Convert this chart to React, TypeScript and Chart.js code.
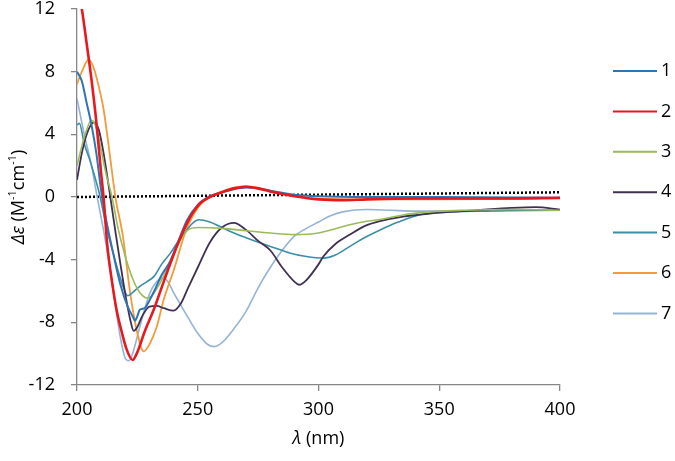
import React, { useEffect, useRef } from 'react';
import { Chart, registerables } from 'chart.js';

Chart.register(...registerables);

// ---- data (wavelength in nm, Δε in M^-1 cm^-1) ----
const seriesLabels = ['1', '2', '3', '4', '5', '6', '7'];
const seriesColors = ['#2E75B6', '#E8191E', '#9BBB59', '#403152', '#3C8DA8', '#F39A3B', '#95B3D7'];
const seriesWidths = [2, 2.6, 1.6, 1.8, 1.6, 1.8, 1.6];

const x1 = [200, 202, 204, 206, 208, 210, 212, 215, 218, 221, 223, 224, 225, 226, 228, 230, 232, 235, 238.6, 242, 245.5, 250, 255, 260, 265, 270, 275, 280, 290, 300, 320, 350, 400];
const y1 = [8.0, 7.4, 6.0, 4.6, 2.8, 0.4, -1.4, -3.6, -5.6, -7.0, -7.6, -7.9, -7.6, -7.2, -7.1, -6.6, -6.0, -5.0, -4.1, -2.8, -1.5, -0.5, 0.05, 0.3, 0.5, 0.6, 0.55, 0.4, 0.15, 0.05, 0.0, 0.0, -0.05];

const x2 = [200, 202, 204, 206, 208, 210, 211, 212.5, 214.5, 216.5, 218.5, 220.5, 223, 225, 228, 232, 235, 239, 242, 245.5, 248, 251, 255, 260, 265, 270, 275, 280, 290, 300, 310, 320, 340, 370, 400];
const y2 = [13.5, 12.0, 9.8, 7.5, 4.8, 1.5, 0, -3.0, -5.4, -7.3, -8.6, -9.7, -10.4, -9.9, -8.6, -7.1, -5.8, -4.1, -2.9, -1.7, -1.0, -0.4, 0.0, 0.3, 0.55, 0.65, 0.55, 0.35, 0.05, -0.15, -0.2, -0.15, -0.1, -0.1, -0.05];

const x3 = [200, 203, 206, 208, 210, 212, 214.5, 217, 220, 223, 226, 229, 231, 234, 237, 240, 243, 246, 250, 260, 270, 280, 290, 300, 305, 313, 320, 325, 335, 342, 360, 380, 400];
const y3 = [2.0, 3.8, 4.9, 4.4, 3.0, 1.5, 0, -2.0, -3.8, -5.2, -6.1, -6.45, -6.3, -5.6, -4.7, -3.6, -2.7, -2.1, -1.95, -2.0, -2.15, -2.3, -2.4, -2.3, -2.1, -1.77, -1.55, -1.45, -1.15, -1.0, -0.85, -0.8, -0.85];

const x4 = [200, 202, 204, 207, 209, 211, 213.8, 216, 218, 220, 222, 223.5, 225, 227, 230, 233, 236, 240, 243, 246, 250, 255, 260, 265, 270, 275, 280, 285, 290, 292, 295, 300, 302, 307, 313, 320, 325, 335, 342, 350, 365, 380, 390, 400];
const y4 = [1.1, 2.8, 4.0, 4.76, 4.3, 2.8, 0, -2.3, -4.3, -6.2, -7.8, -8.55, -8.3, -7.6, -7.0, -6.95, -7.1, -7.25, -6.8, -5.8, -4.5, -2.9, -1.95, -1.65, -2.1, -2.8, -3.4, -4.5, -5.4, -5.6, -5.3, -4.3, -3.8, -3.0, -2.4, -1.8, -1.56, -1.25, -1.13, -1.0, -0.85, -0.7, -0.65, -0.8];

const x5 = [200, 201, 203, 205, 207, 209.6, 212, 215, 218, 221, 223, 226, 229, 232, 235, 238.6, 242, 245.5, 248, 250.5, 255, 259, 265, 270, 276, 282, 288, 295, 302, 307, 313, 319, 325.5, 333, 342, 355, 370, 385, 400];
const y5 = [4.6, 4.7, 3.4, 2.5, 1.5, 0, -1.8, -3.6, -5.2, -6.3, -6.1, -5.7, -5.4, -5.05, -4.3, -3.6, -2.8, -2.1, -1.65, -1.45, -1.6, -1.87, -2.3, -2.6, -2.94, -3.25, -3.57, -3.8, -3.9, -3.7, -3.15, -2.6, -2.1, -1.6, -1.13, -0.95, -0.9, -0.85, -0.85];

const x6 = [200, 202, 204.8, 206.5, 208.3, 211, 213.5, 215.9, 219, 222, 225, 227.6, 230, 233, 236, 240, 245, 250, 255, 260, 265, 270, 275, 280, 290, 300, 320, 350, 400];
const y6 = [7.2, 8.0, 8.76, 8.4, 7.5, 5.6, 2.8, 0, -2.5, -6.1, -8.7, -9.85, -9.4, -8.3, -6.5, -4.7, -2.2, -0.7, 0.0, 0.35, 0.6, 0.7, 0.6, 0.4, 0.1, -0.1, -0.15, -0.15, -0.1];

const x7 = [200, 203, 206, 208, 212, 215, 218, 220, 221.5, 223, 226, 230, 233, 236, 238, 240, 243, 246, 250, 254, 257, 260, 265, 270, 275, 280, 285, 290, 295, 300, 305, 310, 320, 330, 340, 360, 400];
const y7 = [6.3, 4.0, 2.0, 0.3, -3.0, -6.0, -9.0, -10.3, -10.45, -10.0, -8.3, -6.2, -5.4, -5.15, -5.5, -6.1, -6.9, -7.7, -8.7, -9.4, -9.55, -9.3, -8.4, -7.3, -5.8, -4.5, -3.4, -2.5, -2.0, -1.6, -1.2, -0.95, -0.8, -0.85, -0.9, -0.9, -0.85];

const seriesX = [x1, x2, x3, x4, x5, x6, x7];
const seriesY = [y1, y2, y3, y4, y5, y6, y7];

const baselineX = [200, 400];
const baselineY = [0, 0.3];

const xTicksMin = 200;
const xTicksMax = 400;
const xStep = 50;
const yTicksMin = -12;
const yTicksMax = 12;
const yStep = 4;

const FONT = '"Open Sans", "Liberation Sans", sans-serif';
const AXIS_GREY = '#868686';

type Part = { t: string; italic?: boolean; sup?: boolean };

function drawRich(ctx: CanvasRenderingContext2D, parts: Part[], x: number, y: number, size: number) {
  const fontFor = (p: Part) => `${p.italic ? 'italic ' : ''}${p.sup ? Math.round(size * 0.62) : size}px ${FONT}`;
  let total = 0;
  parts.forEach((p) => {
    ctx.font = fontFor(p);
    total += ctx.measureText(p.t).width;
  });
  let cx = x - total / 2;
  ctx.textAlign = 'left';
  ctx.textBaseline = 'middle';
  parts.forEach((p) => {
    ctx.font = fontFor(p);
    ctx.fillText(p.t, cx, p.sup ? y - size * 0.36 : y);
    cx += ctx.measureText(p.t).width;
  });
}

const xTitle: Part[] = [{ t: 'λ', italic: true }, { t: ' (nm)' }];
const yTitle: Part[] = [
  { t: 'Δε', italic: true },
  { t: ' (M' },
  { t: '-1', sup: true },
  { t: 'cm' },
  { t: '-1', sup: true },
  { t: ')' },
];

const decorPlugin = {
  id: 'decor',
  afterDraw(chart: any) {
    const ctx: CanvasRenderingContext2D = chart.ctx;
    const area = chart.chartArea;
    ctx.save();
    ctx.fillStyle = '#000';
    // axis titles
    drawRich(ctx, xTitle, (area.left + area.right) / 2, area.bottom + 54, 18);
    ctx.save();
    ctx.translate(19, (area.top + area.bottom) / 2);
    ctx.rotate(-Math.PI / 2);
    drawRich(ctx, yTitle, 0, 0, 18);
    ctx.restore();
    // legend
    const lx0 = area.right + 53;
    const lx1 = lx0 + 44;
    const top = area.top + 62;
    const gap = 40.4;
    seriesLabels.forEach((lab, i) => {
      const y = top + i * gap;
      ctx.strokeStyle = seriesColors[i];
      ctx.lineWidth = 2;
      ctx.beginPath();
      ctx.moveTo(lx0, y);
      ctx.lineTo(lx1, y);
      ctx.stroke();
      ctx.fillStyle = '#000';
      ctx.font = `18px ${FONT}`;
      ctx.textAlign = 'left';
      ctx.textBaseline = 'middle';
      ctx.fillText(lab, lx1 + 4, y);
    });
    ctx.restore();
  },
};

export default function App() {
  const ref = useRef<HTMLCanvasElement>(null);
  useEffect(() => {
    if (!ref.current) return;
    const pts = (xs: number[], ys: number[]) => xs.map((x, i) => ({ x, y: ys[i] }));
    const datasets: any[] = seriesLabels.map((lab, i) => ({
      label: lab,
      data: pts(seriesX[i], seriesY[i]),
      borderColor: seriesColors[i],
      backgroundColor: seriesColors[i],
      borderWidth: seriesWidths[i],
      pointRadius: 0,
      cubicInterpolationMode: 'monotone',
      fill: false,
      order: i === 1 ? 0 : i + 1,
    }));
    datasets.push({
      label: 'baseline',
      data: pts(baselineX, baselineY),
      borderColor: '#000',
      borderWidth: 2.5,
      borderDash: [2, 2],
      pointRadius: 0,
      fill: false,
      order: 10,
    });
    const chart = new Chart(ref.current, {
      type: 'line',
      data: { datasets },
      options: {
        animation: false,
        responsive: true,
        maintainAspectRatio: false,
        layout: { padding: { top: 9, right: 115, left: 0, bottom: 0 } },
        plugins: { legend: { display: false }, tooltip: { enabled: false }, title: { display: false } },
        scales: {
          x: {
            type: 'linear',
            min: xTicksMin,
            max: xTicksMax,
            ticks: { stepSize: xStep, color: '#000', font: { family: FONT, size: 18 }, padding: 8, maxRotation: 0 },
            grid: { display: true, drawOnChartArea: false, drawTicks: true, tickLength: 6, color: AXIS_GREY, lineWidth: 1.3 },
            border: { color: AXIS_GREY, width: 1.3 },
            afterFit(scale: any) {
              scale.height = 76;
              scale.paddingLeft = 0;
              scale.paddingRight = 0;
            },
          },
          y: {
            min: yTicksMin,
            max: yTicksMax,
            ticks: { stepSize: yStep, color: '#000', font: { family: FONT, size: 18 }, padding: 16 },
            grid: { display: true, drawOnChartArea: false, drawTicks: true, tickLength: 6, color: AXIS_GREY, lineWidth: 1.3 },
            border: { color: AXIS_GREY, width: 1.3 },
            afterFit(scale: any) {
              scale.width = 77;
              scale.paddingTop = 0;
              scale.paddingBottom = 0;
            },
          },
        },
      },
      plugins: [decorPlugin],
    });
    return () => chart.destroy();
  }, []);
  return (
    <div style={{ position: 'fixed', left: 0, top: 0, width: 675, height: 461, background: '#fff' }}>
      <canvas ref={ref} />
    </div>
  );
}
